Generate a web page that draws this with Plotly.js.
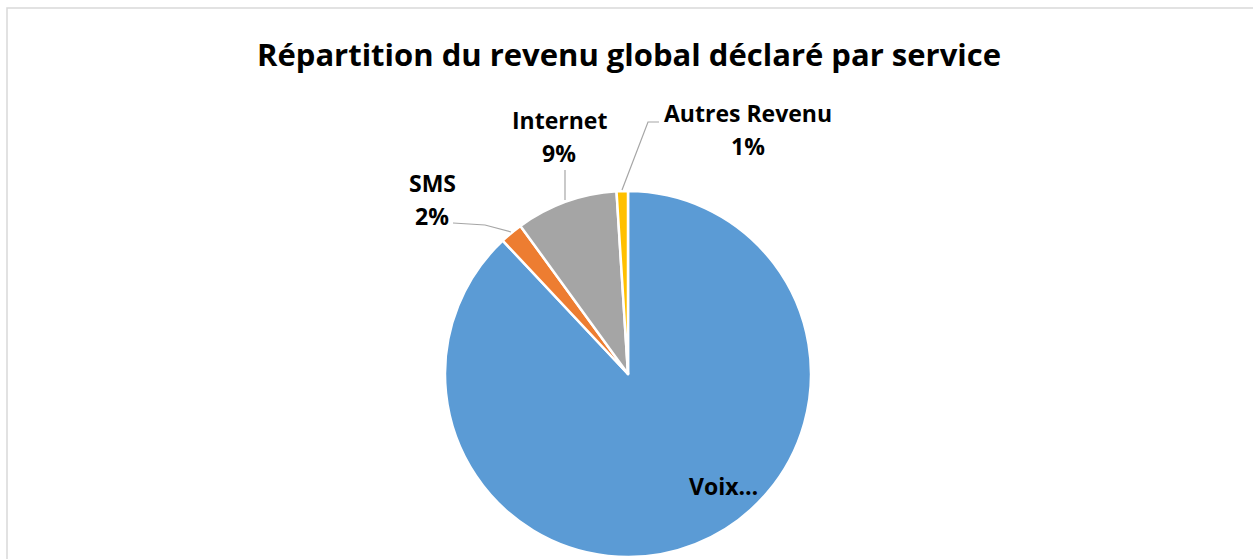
<!DOCTYPE html>
<html>
<head>
<meta charset="utf-8">
<script src="https://cdn.plot.ly/plotly-3.0.1.min.js"></script>
<style>
  html, body { margin: 0; padding: 0; background: #ffffff; }
  #chart { width: 1253px; height: 559px; }
</style>
</head>
<body>
<div id="chart"></div>
<script>
// Répartition du revenu global déclaré par service
const services = ['Voix', 'SMS', 'Internet', 'Autres Revenu'];
const shares = [88, 2, 9, 1];
const sliceColors = ['#5B9BD5', '#ED7D31', '#A5A5A5', '#FFC000'];
const shownNames = ['Voix…', 'SMS', 'Internet', 'Autres Revenu'];

const W = 1253, H = 559;
const px = x => x / W;
const py = y => 1 - y / H;

// label placement (pixels)
const labelSpots = [
    { x: 723, y: 486, pct: false },
    { x: 432, y: 183, pct: true },
    { x: 559, y: 120, pct: true },
    { x: 748, y: 113, pct: true }
];
// leader lines, in pixels
const leaders = [
    [[453, 223], [485, 225], [511, 232]],
    [[565, 170], [565, 200]],
    [[659, 122], [648, 122], [622, 190]]
];

const labelFont = { family: '"Open Sans", sans-serif', size: 23, color: '#000000' };

const total = shares.reduce((a, b) => a + b, 0);
const annotations = [];
services.forEach((s, i) => {
    const spot = labelSpots[i];
    annotations.push({
        xref: 'paper', yref: 'paper', x: px(spot.x), y: py(spot.y),
        text: '<b>' + shownNames[i] + '</b>', showarrow: false,
        xanchor: 'center', yanchor: 'middle', font: labelFont
    });
    if (spot.pct) {
        annotations.push({
            xref: 'paper', yref: 'paper', x: px(spot.x), y: py(spot.y + 33),
            text: '<b>' + Math.round(shares[i] / total * 100) + '%</b>',
            showarrow: false, xanchor: 'center', yanchor: 'middle', font: labelFont
        });
    }
});

const shapes = [{
    type: 'rect', xref: 'paper', yref: 'paper',
    x0: px(7), x1: 1.02, y0: -0.02, y1: py(8),
    line: { color: '#D9D9D9', width: 1.5 }, fillcolor: 'rgba(0,0,0,0)'
}];
leaders.forEach(pts => {
    shapes.push({
        type: 'path', xref: 'paper', yref: 'paper',
        path: pts.map((p, k) => (k ? 'L' : 'M') + px(p[0]) + ',' + py(p[1])).join(' '),
        line: { color: '#A6A6A6', width: 1.2 }
    });
});

const data = [{
    type: 'pie',
    labels: services,
    values: shares,
    sort: false,
    direction: 'clockwise',
    rotation: 0,
    textinfo: 'none',
    hoverinfo: 'label+percent',
    marker: { colors: sliceColors, line: { color: '#ffffff', width: 2.5 } },
    domain: { x: [px(445), px(811)], y: [py(557), py(191)] }
}];

const layout = {
    width: W,
    height: H,
    margin: { t: 0, b: 0, l: 0, r: 0 },
    showlegend: false,
    paper_bgcolor: '#ffffff',
    title: {
        text: '<b>Répartition du revenu global déclaré par service</b>',
        font: { family: '"Open Sans", sans-serif', size: 31, color: '#000000' },
        x: 0.502, xanchor: 'center',
        y: 1 - 55 / H, yanchor: 'middle', yref: 'container'
    },
    annotations: annotations,
    shapes: shapes
};

Plotly.newPlot('chart', data, layout, { displayModeBar: false, staticPlot: true });
</script>
</body>
</html>
